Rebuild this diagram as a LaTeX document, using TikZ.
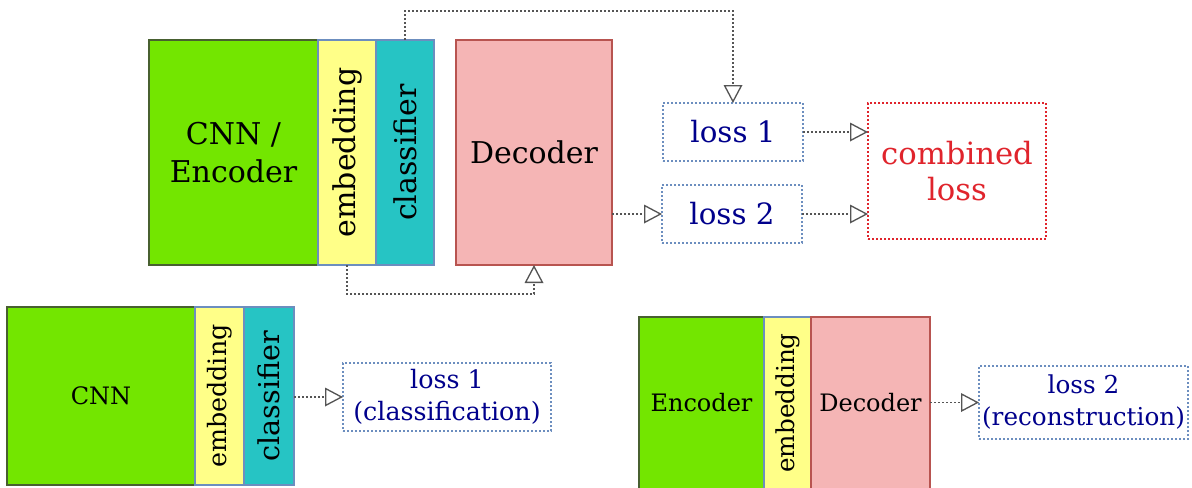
\documentclass[tikz,border=0pt]{standalone}
\usepackage{fontspec}
\setmainfont{DejaVu Serif}
\usepackage{graphicx}
\usetikzlibrary{arrows.meta}

\definecolor{encgreen}{RGB}{115,230,0}
\definecolor{encedge}{RGB}{72,96,48}
\definecolor{embyellow}{RGB}{255,255,136}
\definecolor{clsteal}{RGB}{38,196,196}
\definecolor{bluedge}{RGB}{108,142,191}
\definecolor{decpink}{RGB}{245,181,181}
\definecolor{decedge}{RGB}{184,84,80}
\definecolor{lossnavy}{RGB}{0,0,140}
\definecolor{combred}{RGB}{224,36,44}
\definecolor{linkgray}{RGB}{85,85,85}

\tikzset{
  sz/.style 2 args={minimum width=#1*0.75pt, minimum height=#2*0.75pt},
  block/.style={draw, line width=1pt, inner sep=0pt, outer sep=0pt, anchor=center, align=center},
  encblock/.style={block, fill=encgreen, draw=encedge},
  embblock/.style={block, fill=embyellow, draw=bluedge},
  clsblock/.style={block, fill=clsteal, draw=bluedge},
  decblock/.style={block, fill=decpink, draw=decedge},
  lossbox/.style={block, draw=bluedge, fill=white, text=lossnavy, line width=1.1pt, dash pattern=on 1.4pt off 1.6pt},
  combbox/.style={block, draw=combred, fill=white, text=combred, line width=1.1pt, dash pattern=on 1.4pt off 1.6pt},
  link/.style={draw=linkgray, line width=1.1pt, dash pattern=on 1.4pt off 1.6pt,
    -{Triangle[open, length=13.5pt, width=14pt, line width=1pt]}},
  bigfont/.style={font={\fontsize{22.5}{28.5}\selectfont}},
  smallfont/.style={font={\fontsize{18}{24}\selectfont}},
}

\begin{document}
\begin{tikzpicture}[x=0.75pt, y=-0.75pt]
\useasboundingbox (0,0) rectangle (1192,487);
\clip (0,0) rectangle (1192,487);

% combined model
\node[encblock, bigfont, sz={169}{225}] (enc) at (233.5,152.5) {CNN /\\Encoder};
\node[embblock, bigfont, sz={58}{225}] (emb) at (347,152.5) {\rotatebox{90}{embedding}};
\node[clsblock, bigfont, sz={58}{225}] (cls) at (405,152.5) {\rotatebox{90}{classifier}};
\node[decblock, bigfont, sz={156}{225}] (dec) at (534,152.5) {Decoder};

\node[lossbox, font={\fontsize{22}{26}\selectfont}, sz={140}{58}] (lossA) at (733,132) {loss 1};
\node[lossbox, font={\fontsize{22}{26}\selectfont}, sz={140}{58}] (lossB) at (732,214) {loss 2};
\node[combbox, font={\fontsize{23}{26.5}\selectfont}, sz={178}{136}] (comb) at (957,171) {combined\\loss};

\draw[link] (cls.north) -- ++(0,-29) -| (lossA.north);
\draw[link] (emb.south) -- ++(0,29) -| (dec.south);
\draw[link] (dec.east |- lossB.west) -- (lossB.west);
\draw[link] (lossA.east) -- (comb.west |- lossA.east);
\draw[link] (lossB.east) -- (comb.west |- lossB.east);

% classification model
\node[encblock, smallfont, sz={188}{178}] (cnn) at (101,396) {CNN};
\node[embblock, font={\fontsize{19}{24}\selectfont}, sz={49}{178}] (embC) at (219.5,396) {\rotatebox{90}{embedding}};
\node[clsblock, font={\fontsize{21.5}{26}\selectfont}, sz={50}{178}] (clsC) at (269,396) {\rotatebox{90}{classifier}};
\node[lossbox, font={\fontsize{19}{24}\selectfont}, sz={208}{68}] (lossC) at (447,397) {loss 1\\(classification)};
\draw[link] (clsC.east |- lossC.west) -- (lossC.west);

% reconstruction model
\node[encblock, smallfont, sz={125}{172}] (encR) at (701.5,403) {Encoder};
\node[embblock, font={\fontsize{18.5}{24}\selectfont}, sz={47}{172}] (embR) at (787.5,403) {\rotatebox{90}{embedding}};
\node[decblock, smallfont, sz={119}{172}] (decR) at (870.5,403) {Decoder};
\node[lossbox, font={\fontsize{18.5}{24}\selectfont}, sz={209}{73}] (lossR) at (1083.5,402.5) {loss 2\\(reconstruction)};
\draw[link] (decR.east |- lossR.west) -- (lossR.west);
\end{tikzpicture}
\end{document}
